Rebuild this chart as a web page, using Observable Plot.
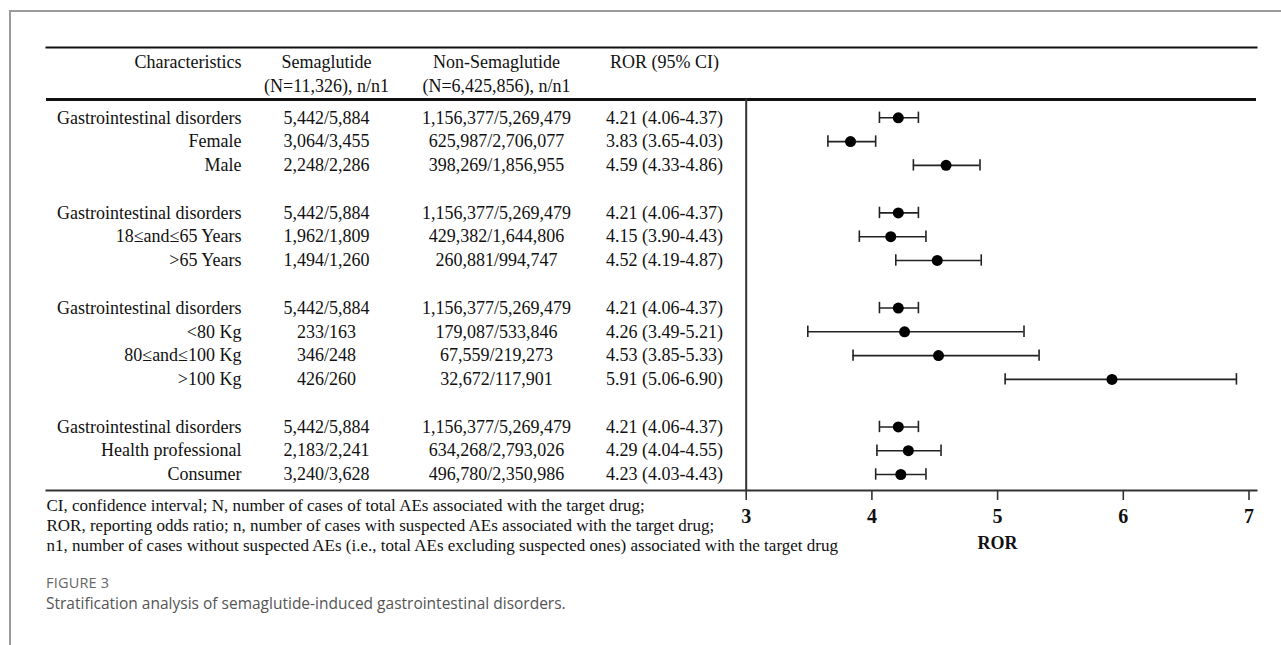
<!DOCTYPE html>
<html>
<head>
<meta charset="utf-8">
<script src="https://cdn.jsdelivr.net/npm/d3@7"></script>
<script src="https://cdn.jsdelivr.net/npm/@observablehq/plot@0.6"></script>
<style>
  html, body { margin: 0; padding: 0; background: #fff; }
  body { width: 1281px; height: 645px; overflow: hidden; position: relative; }
  #box { position: absolute; left: 9px; top: 10px; width: 1300px; height: 700px;
         border-left: 2px solid #9b9b9b; border-top: 2px solid #9b9b9b; }
  #chart { position: absolute; left: 0; top: 0; }
  #figlabel { position: absolute; left: 46px; top: 573px; font-family: "Open Sans", sans-serif;
              font-size: 14.5px; color: #666; letter-spacing: 0.2px; }
  #caption { position: absolute; left: 46px; top: 592px; font-family: "Open Sans", sans-serif;
             font-size: 15.5px; color: #555; }
</style>
</head>
<body>
<div id="box"></div>
<div id="chart"></div>
<div id="figlabel">FIGURE 3</div>
<div id="caption">Stratification analysis of semaglutide-induced gastrointestinal disorders.</div>
<script>
// ---- data ----
const characteristics = ["Gastrointestinal disorders", "Female", "Male",
  "Gastrointestinal disorders", "18≤and≤65 Years", ">65 Years",
  "Gastrointestinal disorders", "<80 Kg", "80≤and≤100 Kg", ">100 Kg",
  "Gastrointestinal disorders", "Health professional", "Consumer"];
const rowIndex = [0, 1, 2, 4, 5, 6, 8, 9, 10, 11, 13, 14, 15];
const semaglutide = ["5,442/5,884", "3,064/3,455", "2,248/2,286",
  "5,442/5,884", "1,962/1,809", "1,494/1,260",
  "5,442/5,884", "233/163", "346/248", "426/260",
  "5,442/5,884", "2,183/2,241", "3,240/3,628"];
const nonSemaglutide = ["1,156,377/5,269,479", "625,987/2,706,077", "398,269/1,856,955",
  "1,156,377/5,269,479", "429,382/1,644,806", "260,881/994,747",
  "1,156,377/5,269,479", "179,087/533,846", "67,559/219,273", "32,672/117,901",
  "1,156,377/5,269,479", "634,268/2,793,026", "496,780/2,350,986"];
const ror   = [4.21, 3.83, 4.59, 4.21, 4.15, 4.52, 4.21, 4.26, 4.53, 5.91, 4.21, 4.29, 4.23];
const lower = [4.06, 3.65, 4.33, 4.06, 3.90, 4.19, 4.06, 3.49, 3.85, 5.06, 4.06, 4.04, 4.03];
const upper = [4.37, 4.03, 4.86, 4.37, 4.43, 4.87, 4.37, 5.21, 5.33, 6.90, 4.37, 4.55, 4.43];
const headers = ["Characteristics", "Semaglutide", "Non-Semaglutide", "ROR (95% CI)"];
const subHeaders = ["", "(N=11,326), n/n1", "(N=6,425,856), n/n1", ""];
const xTicks = [3, 4, 5, 6, 7];
const xLabel = "ROR";
const footnotes = [
  "CI, confidence interval; N, number of cases of total AEs associated with the target drug;",
  "ROR, reporting odds ratio; n, number of cases with suspected AEs associated with the target drug;",
  "n1, number of cases without suspected AEs (i.e., total AEs excluding suspected ones) associated with the target drug"
];

// ---- table built from arrays ----
const rows = characteristics.map((c, i) => ({
  label: c, idx: rowIndex[i], sema: semaglutide[i], non: nonSemaglutide[i],
  ror: ror[i], lo: lower[i], hi: upper[i],
  rorText: `${ror[i].toFixed(2)} (${lower[i].toFixed(2)}-${upper[i].toFixed(2)})`
}));

const serif = "'Liberation Serif', 'Times New Roman', serif";
const colDx = [195, 280, 450, 618];   // column offsets from the left frame edge
const colAnchor = ["end", "middle", "middle", "middle"];
const headerY1 = -2.33, headerY2 = -1.32, headerRule = -0.77, bottomY = 15.67;
const capHalf = 0.24;

const headerMarks = headers.map((h, j) => [
  Plot.text([h], {frameAnchor: "left", dx: colDx[j], y: () => headerY1, text: d => d,
    textAnchor: colAnchor[j], fontSize: 18, fill: "#111"}),
  Plot.text([subHeaders[j]], {frameAnchor: "left", dx: colDx[j], y: () => headerY2, text: d => d,
    textAnchor: colAnchor[j], fontSize: 18, fill: "#111"})
]);

const chart = Plot.plot({
  width: 1281,
  height: 570,
  marginLeft: 46,
  marginRight: 25,
  marginTop: 47,
  marginBottom: 80,
  x: {domain: [3, 7], range: [745.7, 1248.5]},
  y: {type: "linear", domain: [0, 15], range: [117.3, 474], axis: null},
  style: {fontFamily: serif, fontSize: "18px", color: "#111", background: "transparent"},
  marks: [
    // table rules
    Plot.frame({anchor: "top", stroke: "#111", strokeWidth: 2}),
    Plot.ruleY([headerRule], {stroke: "#111", strokeWidth: 3}),
    Plot.ruleX([3], {y1: headerRule, y2: bottomY, stroke: "#333", strokeWidth: 2}),
    // headers
    ...headerMarks.flat(),
    // table body
    Plot.text(rows, {frameAnchor: "left", dx: colDx[0], y: "idx", text: "label", textAnchor: "end", fontSize: 18, fill: "#111"}),
    Plot.text(rows, {frameAnchor: "left", dx: colDx[1], y: "idx", text: "sema", textAnchor: "middle", fontSize: 18, fill: "#111"}),
    Plot.text(rows, {frameAnchor: "left", dx: colDx[2], y: "idx", text: "non", textAnchor: "middle", fontSize: 18, fill: "#111"}),
    Plot.text(rows, {frameAnchor: "left", dx: colDx[3], y: "idx", text: "rorText", textAnchor: "middle", fontSize: 18, fill: "#111"}),
    // forest plot
    Plot.ruleY(rows, {y: "idx", x1: "lo", x2: "hi", stroke: "#222", strokeWidth: 1.6}),
    Plot.ruleX(rows, {x: "lo", y1: d => d.idx - capHalf, y2: d => d.idx + capHalf, stroke: "#222", strokeWidth: 1.6}),
    Plot.ruleX(rows, {x: "hi", y1: d => d.idx - capHalf, y2: d => d.idx + capHalf, stroke: "#222", strokeWidth: 1.6}),
    Plot.dot(rows, {x: "ror", y: "idx", r: 5.5, fill: "#000", stroke: null}),
    // axis
    Plot.frame({anchor: "bottom", stroke: "#333", strokeWidth: 2}),
    Plot.axisX({ticks: xTicks, tickSize: 10, tickPadding: 8, stroke: "#333", strokeWidth: 1.6,
      fontSize: 20, fontWeight: "bold", fill: "#111", label: null, tickFormat: d => String(d)}),
    Plot.text([xLabel], {x: 5, frameAnchor: "bottom", dy: 58, text: d => d,
      fontSize: 18, fontWeight: "bold", fill: "#111"}),
    // footnotes
    Plot.text([footnotes.join("\n")], {frameAnchor: "bottom-left", dy: 6, text: d => d,
      textAnchor: "start", lineAnchor: "top", lineHeight: 1.18, fontSize: 17, fill: "#111"})
  ]
});
document.getElementById("chart").appendChild(chart);
</script>
</body>
</html>
